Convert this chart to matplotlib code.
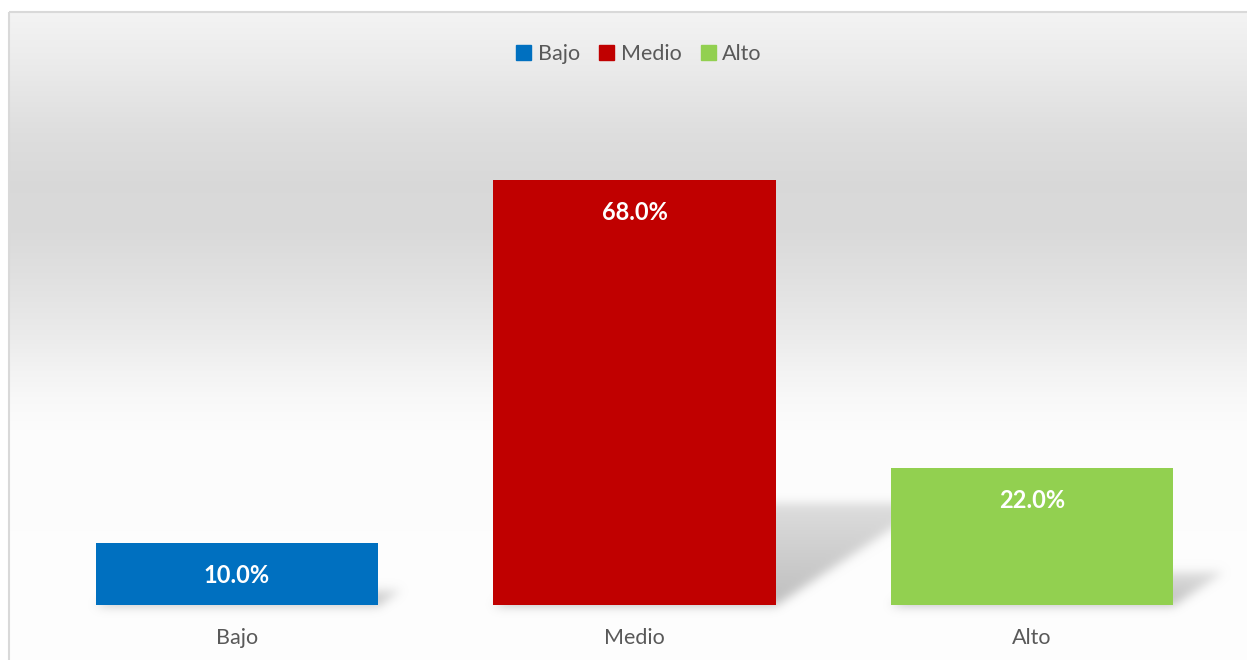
import numpy as np
import matplotlib.pyplot as plt
from matplotlib.patches import Patch, Rectangle

categories = ['Bajo', 'Medio', 'Alto']
percentages = [10.0, 68.0, 22.0]
bar_colors = ['#0070C0', '#C00000', '#92D050']

W, H = 1247, 660
plt.rcParams['font.family'] = ['Lato', 'DejaVu Sans']
text_gray = '#595959'

fig = plt.figure(figsize=(W / 100, H / 100), dpi=100)
bg = fig.add_axes([0, 0, 1, 1], zorder=0)
bg.set_axis_off()

ax = fig.add_axes([38.25 / W, 55 / H, 1192.5 / W, 500 / H], zorder=1)
ax.patch.set_alpha(0)
x = np.arange(len(categories))
bars = ax.bar(x, percentages, width=0.71, color=bar_colors, zorder=3)
ax.set_xlim(-0.5, 2.5)
ax.set_ylim(0, 80)
for s in ax.spines.values():
    s.set_visible(False)
ax.set_yticks([])
ax.set_xticks(x, categories)
ax.tick_params(axis='x', length=0, pad=16.5, labelsize=15.5, labelcolor=text_gray)

for xi, v in zip(x, percentages):
    ax.annotate(f'{v:.1f}%', (xi, v), xytext=(0, -23.5), textcoords='offset points',
                ha='center', va='center', color='white', fontweight='bold', fontsize=17)

# background: vertical gray gradient inside the chart frame
rows = np.arange(H)
stop_y = [12, 67, 133, 183, 233, 283, 333, 367, 400, 433, 660]
stop_v = [0.955, 0.92, 0.87, 0.85, 0.855, 0.885, 0.92, 0.95, 0.975, 0.99, 0.995]
grad = np.interp(rows, stop_y, stop_v)
img = np.tile(grad[:, None], (1, W))

# skewed perspective shadows behind each bar, built from the bar geometry
mask = np.zeros((H, W))
cols = np.arange(W)
for b in bars:
    (dx0, dy0), (dx1, dy1) = ax.transData.transform([(b.get_x(), 0), (b.get_x() + b.get_width(), b.get_height())])
    base = H - dy0
    sh = 0.24 * (dy1 - dy0)
    for r in range(int(base - sh), int(base) + 1):
        t = (base - r) / sh
        off = 1.5 * (base - r)
        sel = (cols >= dx0 + off) & (cols <= dx1 + off)
        mask[r, sel] = np.maximum(mask[r, sel], 1 - 0.5 * t)

k = np.exp(-0.5 * (np.arange(-15, 16) / 5.0) ** 2)
k /= k.sum()
mask = np.apply_along_axis(lambda m: np.convolve(m, k, mode='same'), 1, mask)
mask = np.apply_along_axis(lambda m: np.convolve(m, k, mode='same'), 0, mask)
img = img * (1 - 0.25 * mask)

img[:12, :] = 1.0
img[:, :9] = 1.0
bg.imshow(np.dstack([img] * 3), extent=(0, W, H, 0), aspect='auto', interpolation='nearest')
bg.set_xlim(0, W)
bg.set_ylim(H, 0)
bg.add_patch(Rectangle((9, 12), W, H, fill=False, edgecolor='#d9d9d9', lw=1.5))

handles = [Patch(color=c, label=l) for c, l in zip(bar_colors, categories)]
fig.legend(handles=handles, loc='center', bbox_to_anchor=(639 / W, 1 - 54 / H), ncol=3,
           frameon=False, handlelength=0.7, handleheight=0.7, handletextpad=0.3,
           columnspacing=0.9, fontsize=15.5, labelcolor=text_gray)

fig.savefig('out.png', dpi=100)
